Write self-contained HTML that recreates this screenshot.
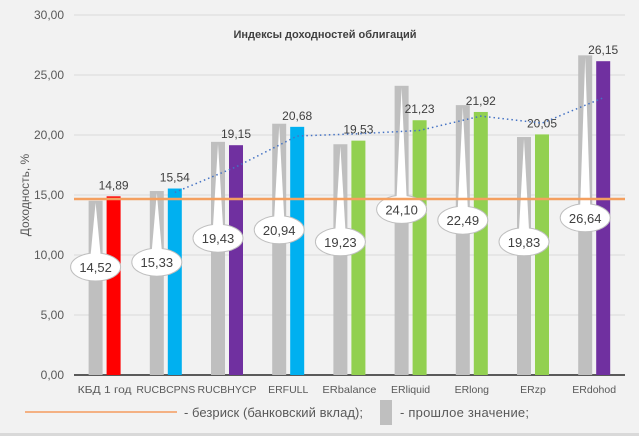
<!DOCTYPE html>
<html><head><meta charset="utf-8"><style>
body{margin:0;background:#f2f2f2;}
svg{display:block;font-family:"Liberation Sans",sans-serif;}
</style></head><body>
<svg id="c" width="639" height="436">
<rect width="639" height="436" fill="#f2f2f2"/>
<rect x="0" y="433" width="639" height="3" fill="#d9d9d9"/>
<text x="325" y="38" font-size="11" font-weight="bold" fill="#404040" text-anchor="middle">Индексы доходностей облигаций</text>
<text transform="translate(29,195) rotate(-90)" font-size="12" fill="#595959" text-anchor="middle">Доходность, %</text>
<g id="grid"></g><g id="bars"></g><g id="over"></g>
<g>
<line x1="25" y1="412" x2="177" y2="412" stroke="#f4b183" stroke-width="2"/>
<text x="184" y="417" font-size="13" fill="#595959" textLength="179">- безриск (банковский вклад);</text>
<rect x="380" y="400" width="12" height="25" fill="#bfbfbf"/>
<text x="400" y="417" font-size="13" fill="#595959" textLength="129">- прошлое значение;</text>
</g>
</svg>
<script>
const categories=["КБД 1 год","RUCBCPNS","RUCBHYCP","ERFULL","ERbalance","ERliquid","ERlong","ERzp","ERdohod"];
const currentValues=[14.89,15.54,19.15,20.68,19.53,21.23,21.92,20.05,26.15];
const previousValues=[14.52,15.33,19.43,20.94,19.23,24.10,22.49,19.83,26.64];
const previousLabels=["14,52","15,33","19,43","20,94","19,23","24,10","22,49","19,83","26,64"];
const barColors=["#ff0000","#00b0f0","#7030a0","#00b0f0","#92d050","#92d050","#92d050","#92d050","#7030a0"];
const calloutValues=[9.0,9.4,11.4,12.1,11.1,13.8,12.9,11.1,13.1];
const riskFree=14.67;
const yTicks=[0,5,10,15,20,25,30];
const NS="http://www.w3.org/2000/svg";
const x0=74,bw=61.2,y0=375,ppu=12;
const X=i=>x0+bw*(i+0.5), Y=v=>y0-v*ppu;
const fmt=v=>v.toFixed(2).replace('.',',');
function mk(p,tag,a){const e=document.createElementNS(NS,tag);for(const k in a)e.setAttribute(k,a[k]);p.appendChild(e);return e;}
const grid=document.getElementById('grid'),bars=document.getElementById('bars'),over=document.getElementById('over');
yTicks.forEach(t=>{
 const l=mk(grid,'line',{x1:74,x2:625,y1:Y(t),y2:Y(t),stroke:t===0?'#000':'#d9d9d9','stroke-width':t===0?1.2:1});
 
 
 const tx=mk(grid,'text',{x:64,y:Y(t)+4,'font-size':12,fill:'#595959','text-anchor':'end'});tx.textContent=fmt(t);
 
 
});
categories.forEach((c,i)=>{
 const cx=X(i);
 const g=mk(bars,'rect',{x:cx-16,y:Y(previousValues[i]),width:14,height:previousValues[i]*ppu,fill:'#bfbfbf'});
 
 
 const b=mk(bars,'rect',{x:cx+2,y:Y(currentValues[i]),width:14,height:currentValues[i]*ppu,fill:barColors[i]});
 
 
 const lt=mk(over,'text',{x:cx+9,y:Y(currentValues[i])-7,'font-size':12,fill:'#404040','text-anchor':'middle'});lt.textContent=fmt(currentValues[i]);
 
 
 const xt=mk(over,'text',{x:cx,y:393,'font-size':10.5,fill:'#595959','text-anchor':'middle'});xt.textContent=c;
 if(c.length>8){xt.setAttribute('textLength',54);xt.setAttribute('lengthAdjust','spacingAndGlyphs');}
 
 
 const ex=cx-9,ey=Y(calloutValues[i]),ax=cx-9,ay=Y(previousValues[i])+2;
 const cg=mk(over,'g',{});
 
 
 mk(cg,'ellipse',{cx:ex,cy:ey,rx:25,ry:14,fill:'#fff',stroke:'#bfbfbf','stroke-width':1});
 mk(cg,'polygon',{points:`${ex-5},${ey-12} ${ax},${ay} ${ex+5},${ey-12}`,fill:'#fff'});
 const ct=mk(cg,'text',{x:ex,y:ey+5,'font-size':13,fill:'#404040','text-anchor':'middle'});ct.textContent=previousLabels[i];
});
const rl=mk(over,'line',{x1:74,x2:625,y1:Y(riskFree),y2:Y(riskFree),stroke:'#f4a060','stroke-width':2.5});


let pts=[];
for(let i=1;i<categories.length;i++){pts.push(`${X(i)+9},${Y((currentValues[i-1]+currentValues[i])/2)}`);}
const tl=mk(over,'polyline',{points:pts.join(' '),fill:'none',stroke:'#4472c4','stroke-width':1.5,'stroke-dasharray':'1.5 3'});


</script>
</body></html>
